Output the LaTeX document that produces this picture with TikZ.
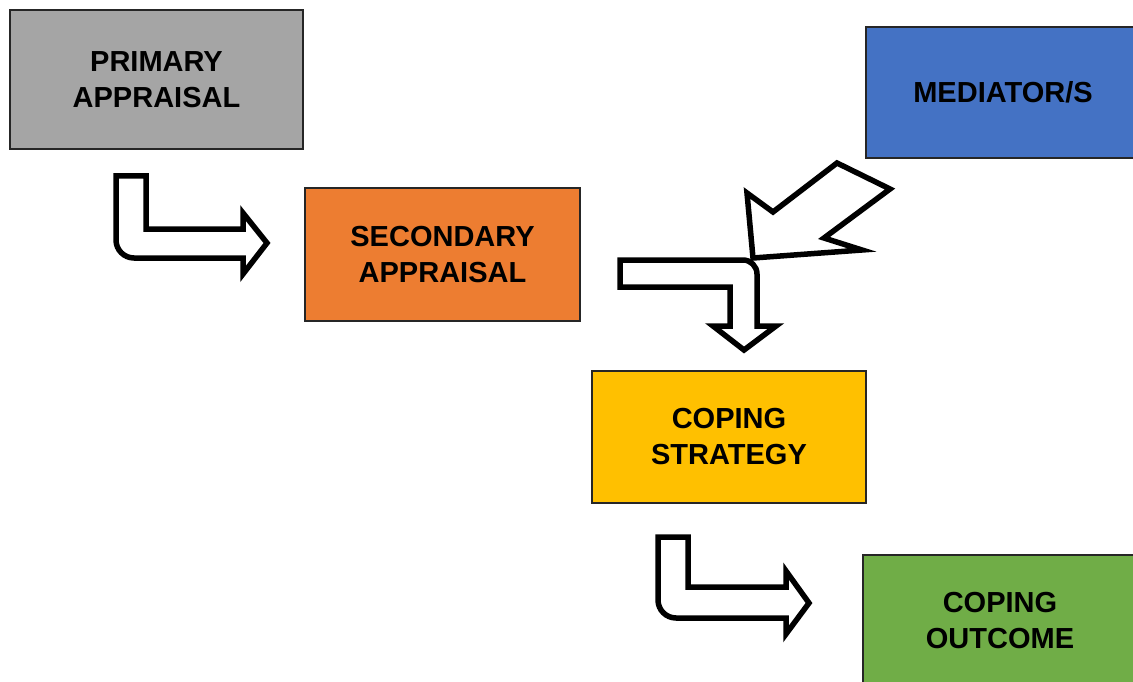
\documentclass[tikz,border=0pt]{standalone}
\usepackage{fontspec}
\setmainfont{Liberation Sans}
\definecolor{cgray}{HTML}{A5A5A5}
\definecolor{corange}{HTML}{ED7D31}
\definecolor{cblue}{HTML}{4472C4}
\definecolor{cyellow}{HTML}{FFC000}
\definecolor{cgreen}{HTML}{70AD47}
\begin{document}
\begin{tikzpicture}[x=1pt,y=-1pt,
  box/.style={draw=black!85, line width=1.5pt, align=center, inner sep=0pt,
    font=\fontsize{29}{36}\selectfont\bfseries, text=black},
  blockarrow/.style={draw=black, fill=white, line width=5.5pt, line join=miter, miter limit=10}]
\useasboundingbox (0,0) rectangle (1133,682);
\fill[white] (0,0) rectangle (1133,682);
% boxes
\node[box, fill=cgray, minimum width=293, minimum height=139] (prim) at (156.5,79.5) {PRIMARY\\APPRAISAL};
\node[box, fill=corange, minimum width=275, minimum height=133] (sec) at (442.5,254.5) {SECONDARY\\APPRAISAL};
\node[box, fill=cblue, minimum width=274, minimum height=131] (med) at (1003,92.5) {MEDIATOR/S};
\node[box, fill=cyellow, minimum width=274, minimum height=132] (cop) at (729,437) {COPING\\STRATEGY};
\node[box, fill=cgreen, minimum width=274, minimum height=132] (out) at (1000,621) {COPING\\OUTCOME};
% bent arrow: primary -> secondary
\draw[blockarrow] (116,176) -- (146,176) -- (146,229) -- (243,229) -- (243,213)
  -- (267,243) -- (243,274) -- (243,258) -- (134,258)
  arc[start angle=90, end angle=180, radius=18] -- cycle;
% bent arrow: secondary -> coping strategy
\draw[blockarrow] (620,260) -- (743,260)
  arc[start angle=-90, end angle=0, radius=14]
  -- (757,326) -- (776,326) -- (744,350) -- (713,326) -- (730,326)
  -- (730,287) -- (620,287) -- cycle;
% diagonal arrow: mediator -> junction
\draw[blockarrow] (837,163) -- (890,189) -- (824,238) -- (862,250)
  -- (753,258) -- (747,193) -- (773,212) -- cycle;
% bent arrow: coping strategy -> outcome
\draw[blockarrow] (658,537) -- (688,537) -- (688,587) -- (786,587) -- (786,571)
  -- (809,603) -- (786,634) -- (786,618) -- (676,618)
  arc[start angle=90, end angle=180, radius=18] -- cycle;
\end{tikzpicture}
\end{document}
